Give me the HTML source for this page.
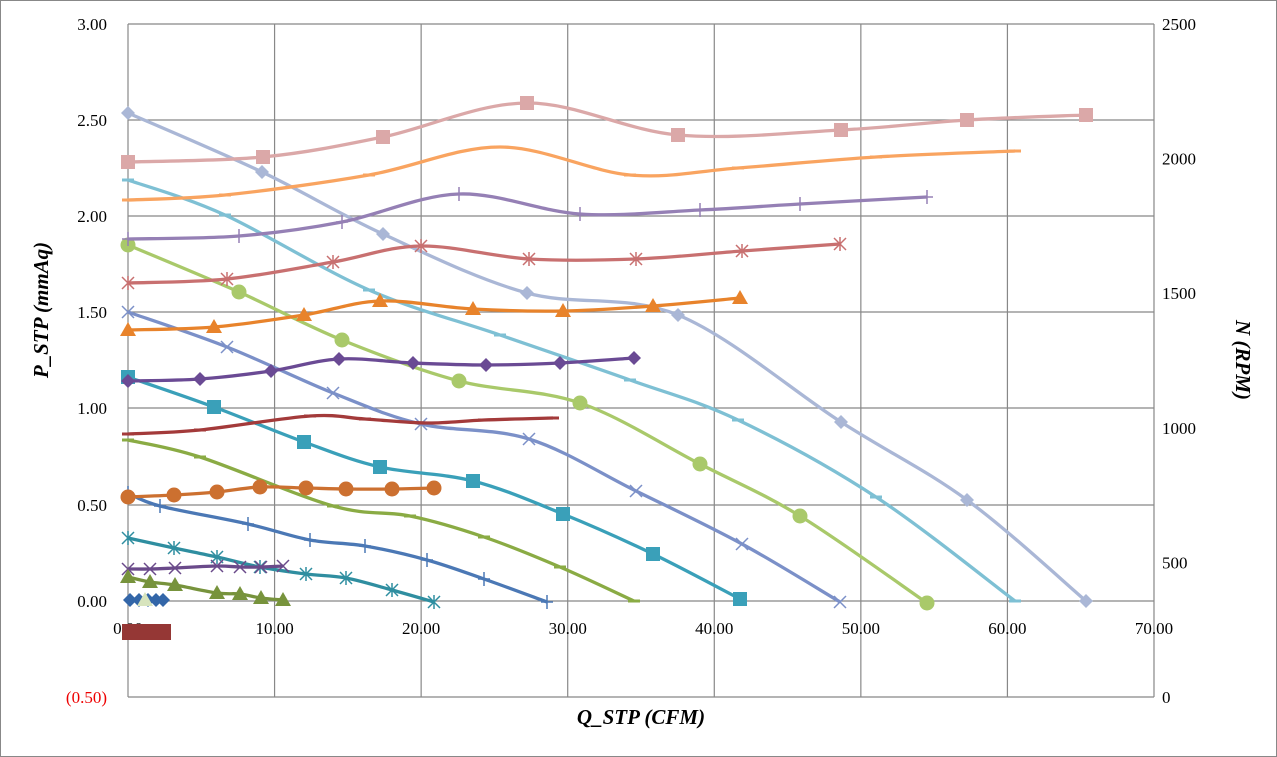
<!DOCTYPE html><html><head><style>body{margin:0;background:#fff}svg{display:block}text{font-family:"Liberation Serif",serif;font-size:17px}</style></head><body>
<svg id="s" width="1277" height="757" xmlns="http://www.w3.org/2000/svg">
<rect x="0.5" y="0.5" width="1276" height="756" fill="#fff" stroke="#888"/>
<g id="grid" stroke="#888" stroke-width="1.2"></g>
<g id="lab"></g>
<g id="ser"></g>
<rect x="122" y="624" width="49" height="16" fill="#953735"/>
<text x="48" y="310" transform="rotate(-90 48 310)" text-anchor="middle" style="font-weight:bold;font-style:italic;font-size:21px">P_STP (mmAq)</text>
<text x="1236" y="360" transform="rotate(90 1236 360)" text-anchor="middle" style="font-weight:bold;font-style:italic;font-size:21px">N (RPM)</text>
<text x="641" y="724" text-anchor="middle" style="font-weight:bold;font-style:italic;font-size:21px">Q_STP (CFM)</text>
</svg>
<script>
const NS="http://www.w3.org/2000/svg";
function el(p,t,a,txt){const e=document.createElementNS(NS,t);for(const k in a)e.setAttribute(k,a[k]);if(txt!==undefined)e.textContent=txt;p.appendChild(e);return e;}
const g=document.getElementById('grid'),L=document.getElementById('lab'),S=document.getElementById('ser');
const ys=[24,120,216,312,408,505,601,697],yl=["3.00","2.50","2.00","1.50","1.00","0.50","0.00","(0.50)"];
ys.forEach((y,i)=>{el(g,'line',{x1:128,x2:1154,y1:y,y2:y});el(L,'text',{x:107,y:y+6,'text-anchor':'end',fill:i==7?'#e00':'#000'},yl[i]);});
for(let i=0;i<=7;i++){const x=128+i*146.57;el(g,'line',{x1:x,x2:x,y1:24,y2:697});el(L,'text',{x:x,y:634,'text-anchor':'middle'},(i*10).toFixed(2));}
for(let i=0;i<=5;i++){const y=697-i*134.6;el(L,'text',{x:1162,y:y+6},String(i*500));}
function path(p){let d=`M${p[0][0]},${p[0][1]}`;for(let i=0;i<p.length-1;i++){const a=p[i-1]||p[i],b=p[i],c=p[i+1],e=p[i+2]||c;d+=` C${b[0]+(c[0]-a[0])/6},${b[1]+(c[1]-a[1])/6} ${c[0]-(e[0]-b[0])/6},${c[1]-(e[1]-b[1])/6} ${c[0]},${c[1]}`;}return d;}
function mk(t,x,y,c){switch(t){
case 'sq':el(S,'rect',{x:x-7,y:y-7,width:14,height:14,fill:c});break;
case 'ci':el(S,'circle',{cx:x,cy:y,r:7.5,fill:c});break;
case 'tr':el(S,'polygon',{points:`${x},${y-8} ${x+8},${y+6} ${x-8},${y+6}`,fill:c});break;
case 'di':el(S,'polygon',{points:`${x},${y-7} ${x+7},${y} ${x},${y+7} ${x-7},${y}`,fill:c});break;
case 'x':el(S,'path',{d:`M${x-6},${y-6}L${x+6},${y+6}M${x-6},${y+6}L${x+6},${y-6}`,stroke:c,'stroke-width':1.5});break;
case 'st':el(S,'path',{d:`M${x-6},${y-6}L${x+6},${y+6}M${x-6},${y+6}L${x+6},${y-6}M${x},${y-7}L${x},${y+7}`,stroke:c,'stroke-width':1.5});break;
case 'pl':el(S,'path',{d:`M${x},${y-7}L${x},${y+7}M${x-6},${y}L${x+6},${y}`,stroke:c,'stroke-width':1.5});break;
case 'da':el(S,'path',{d:`M${x-6},${y}L${x+6},${y}`,stroke:c,'stroke-width':3});break;}}
const D=[
['#aab7d6','di',[[128,113],[262,172],[383,234],[527,293],[678,315],[841,422],[967,500],[1086,601]]],
['#7ec0d4','da',[[128,180],[225,215],[369,290],[500,335],[630,380],[738,420],[876,497],[1015,601]]],
['#a9c96a','ci',[[128,245],[239,292],[342,340],[459,381],[580,403],[700,464],[800,516],[927,603]]],
['#7b90c8','x',[[128,312],[227,347],[333,393],[421,424],[529,439],[636,491],[742,544],[840,602]]],
['#3aa0b9','sq',[[128,377],[214,407],[304,442],[380,467],[473,481],[563,514],[653,554],[740,599]]],
['#8aab44','da',[[128,440],[200,457],[333,506],[410,516],[484,537],[560,567],[634,601]]],
['#4b78b5','pl',[[128,493],[160,506],[248,524],[310,540],[365,546],[427,560],[484,579],[547,602]]],
['#2f8ea0','st',[[128,538],[174,548],[217,557],[260,567],[306,574],[346,578],[392,590],[434,602]]],
['#dba8a8','sq',[[128,162],[263,157],[383,137],[527,103],[678,135],[841,130],[967,120],[1086,115]]],
['#f9a460','da',[[128,200],[225,195],[369,175],[500,147],[630,175],[738,168],[876,157],[1015,151]]],
['#9580b5','pl',[[128,239],[239,236],[342,222],[459,194],[580,214],[700,210],[800,204],[927,197]]],
['#c87070','st',[[128,283],[227,279],[333,262],[421,246],[529,259],[636,259],[742,251],[840,244]]],
['#e8832b','tr',[[128,330],[214,327],[304,315],[380,301],[473,309],[563,311],[653,306],[740,298]]],
['#6a4a94','di',[[128,381],[200,379],[271,371],[339,359],[413,363],[486,365],[560,363],[634,358]]],
['#a33a3a','da',[[128,434],[200,430],[310,416],[365,419],[427,423],[484,420],[553,418]]],
['#cc7030','ci',[[128,497],[174,495],[217,492],[260,487],[306,488],[346,489],[392,489],[434,488]]],
['#6a4a8a','x',[[128,569],[150,569],[175,568],[217,566],[240,567],[261,567],[283,566]]],
['#77933c','tr',[[128,577],[150,582],[175,585],[217,593],[240,594],[261,598],[283,600]]],
['#3366a8','di',[[130,600],[139,600],[148,600],[156,600],[163,600]]]];
D.forEach(([c,m,p])=>{el(S,'path',{d:path(p),fill:'none',stroke:c,'stroke-width':3.3});p.forEach(q=>mk(m,q[0],q[1],c));});
el(S,'polygon',{points:'145,592 153,606 137,606',fill:'#d7e4bd'});
</script>
</body></html>
